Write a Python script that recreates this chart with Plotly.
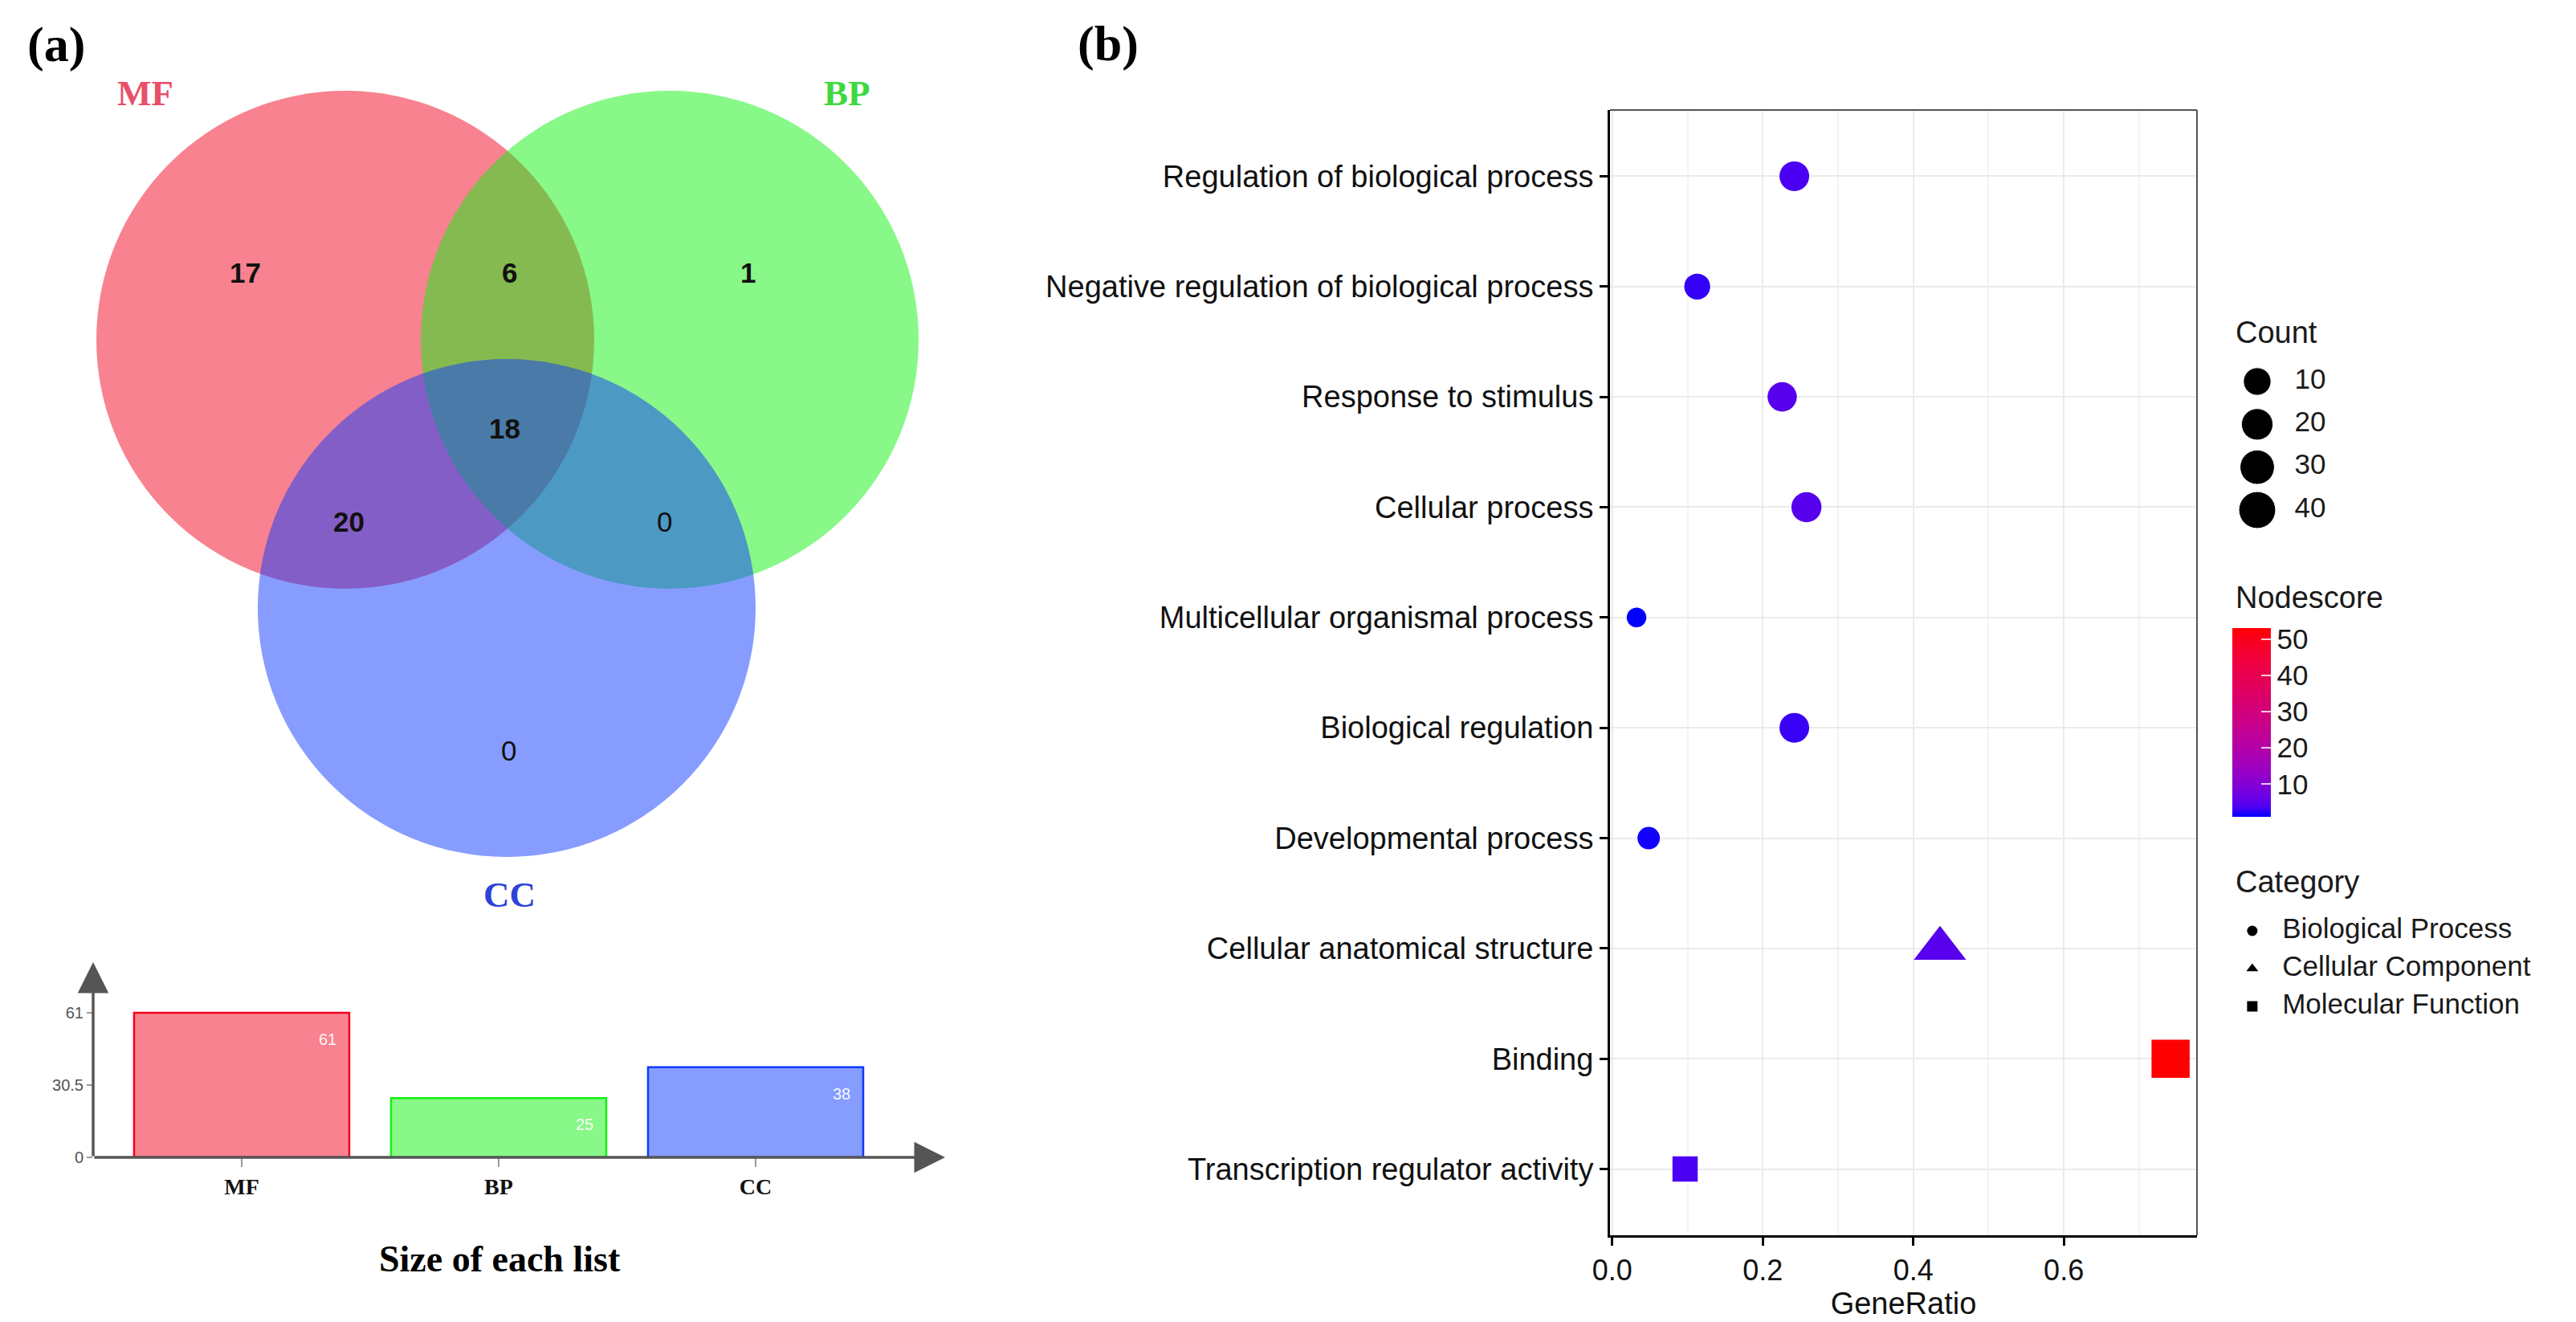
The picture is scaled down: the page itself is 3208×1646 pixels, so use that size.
import math
import plotly.graph_objects as go

W, H = 3208, 1646
SANS = "Liberation Sans"
SERIF = "Liberation Serif"

# ---------------- (a) Venn diagram + list sizes ----------------
set_names = ["MF", "BP", "CC"]
set_sizes = [61, 25, 38]
set_rgb = [(241, 5, 31), (17, 241, 17), (15, 57, 255)]
set_label_colors = ["#E8506A", "#3FD83F", "#2E44D8"]

region_names = ["MF", "MF&BP", "BP", "MF&CC", "MF&BP&CC", "BP&CC", "CC"]
region_counts = [17, 6, 1, 20, 18, 0, 0]

# ---------------- (b) GO enrichment dot plot ----------------
terms = [
    "Regulation of biological process",
    "Negative regulation of biological process",
    "Response to stimulus",
    "Cellular process",
    "Multicellular organismal process",
    "Biological regulation",
    "Developmental process",
    "Cellular anatomical structure",
    "Binding",
    "Transcription regulator activity",
]
counts = [15, 7, 14, 16, 2, 15, 3, 27, 46, 6]
total_genes = 62
nodescore = [3.6, 2.8, 4.6, 4.6, 1.0, 3.0, 1.6, 4.8, 53.0, 3.6]
category = [
    "Biological Process", "Biological Process", "Biological Process",
    "Biological Process", "Biological Process", "Biological Process",
    "Biological Process", "Cellular Component", "Molecular Function",
    "Molecular Function",
]
categories = ["Biological Process", "Cellular Component", "Molecular Function"]
category_symbols = ["circle", "triangle-up", "square"]
count_breaks = [10, 20, 30, 40]
nodescore_ticks = [10, 20, 30, 40, 50]
ratio_ticks = [0.0, 0.2, 0.4, 0.6]


def px_x(p):
    return p / W


def px_y(p):
    return 1 - p / H


# ggplot-like blue -> red gradient, interpolated in Lab space
def _lin(c):
    c = c / 255
    return c / 12.92 if c <= 0.04045 else ((c + 0.055) / 1.055) ** 2.4


def rgb_to_lab(rgb):
    r, g, b = [_lin(v) for v in rgb]
    X = 0.4124 * r + 0.3576 * g + 0.1805 * b
    Y = 0.2126 * r + 0.7152 * g + 0.0722 * b
    Z = 0.0193 * r + 0.1192 * g + 0.9505 * b

    def f(t):
        return t ** (1 / 3) if t > 0.008856 else 7.787 * t + 16 / 116

    fx, fy, fz = f(X / 0.95047), f(Y), f(Z / 1.08883)
    return (116 * fy - 16, 500 * (fx - fy), 200 * (fy - fz))


def lab_to_rgb(lab):
    L, a, b = lab
    fy = (L + 16) / 116
    fx = fy + a / 500
    fz = fy - b / 200

    def finv(t):
        return t ** 3 if t > 6 / 29 else (t - 16 / 116) / 7.787

    X, Y, Z = 0.95047 * finv(fx), finv(fy), 1.08883 * finv(fz)
    r = 3.2406 * X - 1.5372 * Y - 0.4986 * Z
    g = -0.9689 * X + 1.8758 * Y + 0.0415 * Z
    bb = 0.0557 * X - 0.2040 * Y + 1.0570 * Z

    def gam(c):
        c = min(max(c, 0), 1)
        return 12.92 * c if c <= 0.0031308 else 1.055 * c ** (1 / 2.4) - 0.055

    return "rgb(%d,%d,%d)" % tuple(round(255 * gam(c)) for c in (r, g, bb))


lab_lo, lab_hi = rgb_to_lab((0, 0, 255)), rgb_to_lab((255, 0, 0))
colorscale = []
for i in range(21):
    t = i / 20
    colorscale.append([t, lab_to_rgb([lo + (hi - lo) * t for lo, hi in zip(lab_lo, lab_hi)])])

cmin_c, cmax_c = min(counts), max(counts)


def dot_size(c):
    return 24.5 + 23 * math.sqrt(max(c - cmin_c, 0) / (cmax_c - cmin_c))


gene_ratio = [c / total_genes for c in counts]
symbols = [category_symbols[categories.index(c)] for c in category]
sizes = [dot_size(c) * (1.35 if s == "triangle-up" else 1.0) for c, s in zip(counts, symbols)]

fig = go.Figure()

# ---- bars: size of each list
bar_w = 0.8375
fig.add_trace(go.Bar(
    x=list(range(len(set_names))), y=set_sizes, width=bar_w,
    xaxis="x2", yaxis="y2", showlegend=False,
    marker=dict(
        color=["rgba(%d,%d,%d,0.5)" % c for c in set_rgb],
        line=dict(color=["rgb(%d,%d,%d)" % c for c in set_rgb], width=2.5),
    ),
))

# ---- dot plot
fig.add_trace(go.Scatter(
    x=gene_ratio, y=terms, mode="markers", xaxis="x3", yaxis="y3",
    showlegend=False, cliponaxis=False,
    marker=dict(
        size=sizes, symbol=symbols, color=nodescore, colorscale=colorscale,
        cmin=min(nodescore), cmax=max(nodescore), line=dict(width=0),
        opacity=1, showscale=True,
        colorbar=dict(
            x=px_x(2780), xanchor="left", xpad=0,
            y=px_y(899.5), yanchor="middle", ypad=0,
            len=235, lenmode="pixels", thickness=48, thicknessmode="pixels",
            outlinewidth=0, tickvals=nodescore_ticks, ticks="inside",
            ticklen=12, tickcolor="rgba(255,255,255,0.8)", tickwidth=2,
            tickfont=dict(family=SANS, size=35, color="#1a1a1a"),
        ),
    ),
))

# ---- Count legend
fig.add_trace(go.Scatter(
    x=[0] * len(count_breaks), y=count_breaks, mode="markers",
    xaxis="x4", yaxis="y4", showlegend=False, cliponaxis=False,
    marker=dict(size=[dot_size(c) for c in count_breaks], color="black", opacity=1),
))
fig.add_trace(go.Scatter(
    x=[1.5] * len(count_breaks), y=count_breaks, mode="text",
    text=[str(c) for c in count_breaks], textposition="middle right",
    xaxis="x4", yaxis="y4", showlegend=False, cliponaxis=False,
    textfont=dict(family=SANS, size=35, color="#1a1a1a"),
))

# ---- Category legend
fig.add_trace(go.Scatter(
    x=[-0.2] * len(categories), y=categories, mode="markers",
    xaxis="x5", yaxis="y5", showlegend=False, cliponaxis=False,
    marker=dict(size=13, symbol=category_symbols, color="black", opacity=1),
))
fig.add_trace(go.Scatter(
    x=[1.0] * len(categories), y=categories, mode="text",
    text=categories, textposition="middle right",
    xaxis="x5", yaxis="y5", showlegend=False, cliponaxis=False,
    textfont=dict(family=SANS, size=35, color="#1a1a1a"),
))

# ---- Venn circles (canvas axis in pixel units)
venn_r = 310
venn_centers = [(430, 423), (834, 423), (631, 757)]
shapes = []
for (cx, cy), rgb in zip(venn_centers, set_rgb):
    shapes.append(dict(
        type="circle", xref="x", yref="y",
        x0=cx - venn_r, x1=cx + venn_r, y0=cy - venn_r, y1=cy + venn_r,
        fillcolor="rgb(%d,%d,%d)" % rgb, opacity=0.5, line=dict(width=0),
    ))

# dot-plot panel border (top / right in grey)
shapes.append(dict(type="line", xref="x3 domain", yref="y3 domain", x0=0, x1=1, y0=1, y1=1,
                   line=dict(color="#555", width=2)))
shapes.append(dict(type="line", xref="x3 domain", yref="y3 domain", x0=1, x1=1, y0=0, y1=1,
                   line=dict(color="#555", width=2)))

annotations = []
region_pos = [(305, 339), (634, 339), (931, 339), (434, 649), (628, 533), (827, 649), (633, 934)]
for (x, y), n in zip(region_pos, region_counts):
    annotations.append(dict(
        x=x, y=y, xref="x", yref="y", showarrow=False,
        text="<b>%d</b>" % n if n else str(n),
        font=dict(family=SANS, size=35, color="#111"),
    ))

set_label_pos = [(181, 116), (1055, 116), (634, 1114)]
for (x, y), name, col in zip(set_label_pos, set_names, set_label_colors):
    annotations.append(dict(
        x=x, y=y, xref="x", yref="y", showarrow=False,
        text="<b>%s</b>" % name, font=dict(family=SERIF, size=45, color=col),
    ))

for x, y, t in [(70, 55, "(a)"), (1380, 54, "(b)")]:
    annotations.append(dict(
        x=x, y=y, xref="x", yref="y", showarrow=False,
        text="<b>%s</b>" % t, font=dict(family=SERIF, size=62, color="black"),
    ))

annotations.append(dict(
    x=622, y=1567, xref="x", yref="y", showarrow=False,
    text="<b>Size of each list</b>", font=dict(family=SERIF, size=46, color="black"),
))

# bar chart arrow axes
bar_xr = [-0.578, 2.7375]
bar_yr = [0, 82.3]
annotations.append(dict(
    x=bar_xr[1], y=0, ax=bar_xr[0], ay=0, xref="x2", yref="y2", axref="x2", ayref="y2",
    text="", showarrow=True, arrowhead=2, arrowsize=2.2, arrowwidth=3.5, arrowcolor="#555",
))
annotations.append(dict(
    x=bar_xr[0], y=bar_yr[1], ax=bar_xr[0], ay=0, xref="x2", yref="y2", axref="x2", ayref="y2",
    text="", showarrow=True, arrowhead=2, arrowsize=2.2, arrowwidth=3.5, arrowcolor="#555",
))

for i, v in enumerate(set_sizes):
    annotations.append(dict(
        x=i + bar_w / 2, y=v, xref="x2", yref="y2", showarrow=False,
        xanchor="right", yanchor="top", xshift=-14, yshift=-20,
        text=str(v), font=dict(family=SANS, size=20, color="rgba(255,255,255,0.95)"),
    ))

for y, t in [(414, "Count"), (744, "Nodescore"), (1098, "Category")]:
    annotations.append(dict(
        x=2782, y=y, xref="x", yref="y", showarrow=False, xanchor="left",
        text=t, font=dict(family=SANS, size=38, color="#1a1a1a"),
    ))

hidden = dict(visible=False, fixedrange=True, automargin=False)
fig.update_layout(
    width=W, height=H, margin=dict(l=0, r=0, t=0, b=0, autoexpand=False),
    paper_bgcolor="white", plot_bgcolor="rgba(0,0,0,0)",
    showlegend=False, shapes=shapes, annotations=annotations,
    xaxis=dict(domain=[0, 1], range=[0, W], anchor="y", **hidden),
    yaxis=dict(domain=[0, 1], range=[H, 0], anchor="x", **hidden),
    xaxis2=dict(
        domain=[px_x(116), px_x(1177)], range=bar_xr, anchor="y2", automargin=False,
        tickvals=list(range(len(set_names))), ticktext=["<b>%s</b>" % s for s in set_names],
        ticks="outside", ticklen=11, tickwidth=1.5, tickcolor="#999",
        showgrid=False, zeroline=False, showline=False,
        tickfont=dict(family=SERIF, size=28, color="#111"),
    ),
    yaxis2=dict(
        domain=[px_y(1441), px_y(1198)], range=bar_yr, anchor="x2", automargin=False,
        tickvals=[0, set_sizes[0] / 2, set_sizes[0]],
        ticktext=["0", "%g" % (set_sizes[0] / 2), str(set_sizes[0])],
        ticks="outside", ticklen=7, tickwidth=1.5, tickcolor="#999",
        showgrid=False, zeroline=False, showline=False,
        tickfont=dict(family=SANS, size=20, color="#555"),
    ),
    xaxis3=dict(
        domain=[px_x(2005), px_x(2736)], range=[-0.003, 0.777], anchor="y3", automargin=False,
        tickvals=ratio_ticks, tickformat=".1f",
        ticks="outside", ticklen=10, tickwidth=2.5, tickcolor="black",
        showline=True, linecolor="black", linewidth=3,
        showgrid=True, gridcolor="#EBEBEB", gridwidth=2,
        minor=dict(dtick=0.1, tick0=0, showgrid=True, gridcolor="#F3F3F3", gridwidth=1.5),
        zeroline=False, tickfont=dict(family=SANS, size=36, color="#111"),
        title=dict(text="GeneRatio", font=dict(family=SANS, size=38, color="#111"), standoff=6),
    ),
    yaxis3=dict(
        domain=[px_y(1538), px_y(137)], anchor="x3", type="category", automargin=False,
        categoryorder="array", categoryarray=terms[::-1], range=[-0.6, len(terms) - 0.4],
        ticks="outside", ticklen=10, tickwidth=2.5, tickcolor="black",
        showline=True, linecolor="black", linewidth=3,
        showgrid=True, gridcolor="#EBEBEB", gridwidth=2, zeroline=False,
        tickfont=dict(family=SANS, size=38, color="#111"),
    ),
    xaxis4=dict(domain=[px_x(2780), px_x(2904)], range=[-1, 3], anchor="y4", **hidden),
    yaxis4=dict(domain=[px_y(661.7), px_y(448.3)], range=[45, 5], anchor="x4", **hidden),
    xaxis5=dict(domain=[px_x(2780), px_x(3150)], range=[-1, 10.9], anchor="y5", **hidden),
    yaxis5=dict(domain=[px_y(1276.5), px_y(1135.5)], type="category",
                categoryorder="array", categoryarray=categories,
                range=[len(categories) - 0.5, -0.5], anchor="x5", **hidden),
)

# drop the browser's default 8px body margin so the figure sits at the page origin
fig.write_html(
    "out.html",
    config={"displayModeBar": False},
    post_script="document.body.style.margin='0';",
)
